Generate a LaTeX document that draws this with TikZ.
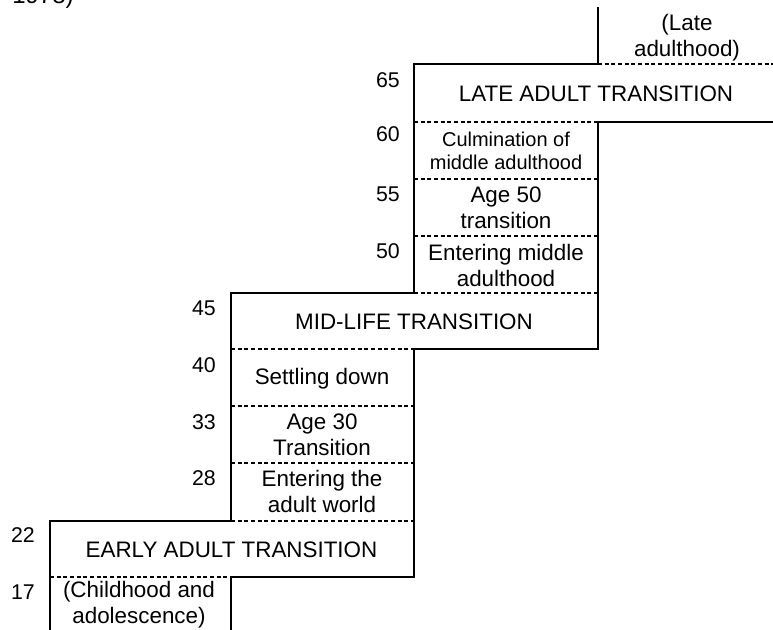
\documentclass[tikz,border=0pt]{standalone}
\usepackage{fontspec}
\setmainfont{Liberation Sans}
\tikzset{
  solidln/.style={line width=1.5pt, line cap=rect},
  dashln/.style={line width=1.2pt, dash pattern=on 3pt off 2pt},
  lbl/.style={inner sep=0pt, align=center, font=\fontsize{16.8pt}{19.3pt}\selectfont},
  smalllbl/.style={inner sep=0pt, align=center, font=\fontsize{15pt}{17pt}\selectfont},
  agenum/.style={inner sep=0pt, anchor=east, font=\fontsize{16pt}{18pt}\selectfont},
}
\begin{document}
\begin{tikzpicture}[x=0.75pt, y=-0.75pt]
\useasboundingbox (0,0) rectangle (773,630);
\clip (0,0) rectangle (773,630);
% cropped fragment at the top left
\node[inner sep=0pt, anchor=base west, font=\fontsize{18pt}{20pt}\selectfont] (frag) at (12,4) {1978)};
% solid outlines
\draw[solidln] (598,8) -- (598,64);
\draw[solidln] (780,122) -- (598,122) -- (598,349) -- (414,349) -- (414,577) -- (231,577) -- (231,640);
\draw[solidln] (598,64) -- (414,64) -- (414,293) -- (231,293) -- (231,521) -- (50,521) -- (50,640);
% dashed dividers
\draw[dashln] (598,64) -- (773,64);
\draw[dashln] (414,122) -- (598,122);
\draw[dashln] (414,179) -- (598,179);
\draw[dashln] (414,236) -- (598,236);
\draw[dashln] (414,293) -- (598,293);
\draw[dashln] (231,349) -- (414,349);
\draw[dashln] (231,406) -- (414,406);
\draw[dashln] (231,463) -- (414,463);
\draw[dashln] (231,521) -- (414,521);
\draw[dashln] (50,577) -- (231,577);
% band texts
\node[lbl] (lateadult) at (687,37.5) {(Late\\adulthood)};
\node[lbl] (lat) at (596,94) {LATE ADULT TRANSITION};
\node[smalllbl] (culm) at (506,151) {Culmination of\\middle adulthood};
\node[lbl] (age50) at (506,208) {Age 50\\transition};
\node[lbl] (entmid) at (506,265.5) {Entering middle\\adulthood};
\node[lbl] (mlt) at (414,322) {MID-LIFE TRANSITION};
\node[lbl] (settle) at (322,379) {Settling down};
\node[lbl] (age30) at (322,435) {Age 30\\Transition};
\node[lbl] (entadult) at (322,491.5) {Entering the\\adult world};
\node[lbl] (eat) at (231.5,550) {EARLY ADULT TRANSITION};
\node[lbl] (child) at (139,604.5) {(Childhood and\\adolescence)};
% ages
\node[agenum] (a65) at (400,80) {65};
\node[agenum] (a60) at (400,134) {60};
\node[agenum] (a55) at (400,194) {55};
\node[agenum] (a50) at (400,251) {50};
\node[agenum] (a45) at (216,308) {45};
\node[agenum] (a40) at (216,365) {40};
\node[agenum] (a33) at (216,422) {33};
\node[agenum] (a28) at (216,478) {28};
\node[agenum] (a22) at (35,535) {22};
\node[agenum] (a17) at (35,592) {17};
\end{tikzpicture}
\end{document}
